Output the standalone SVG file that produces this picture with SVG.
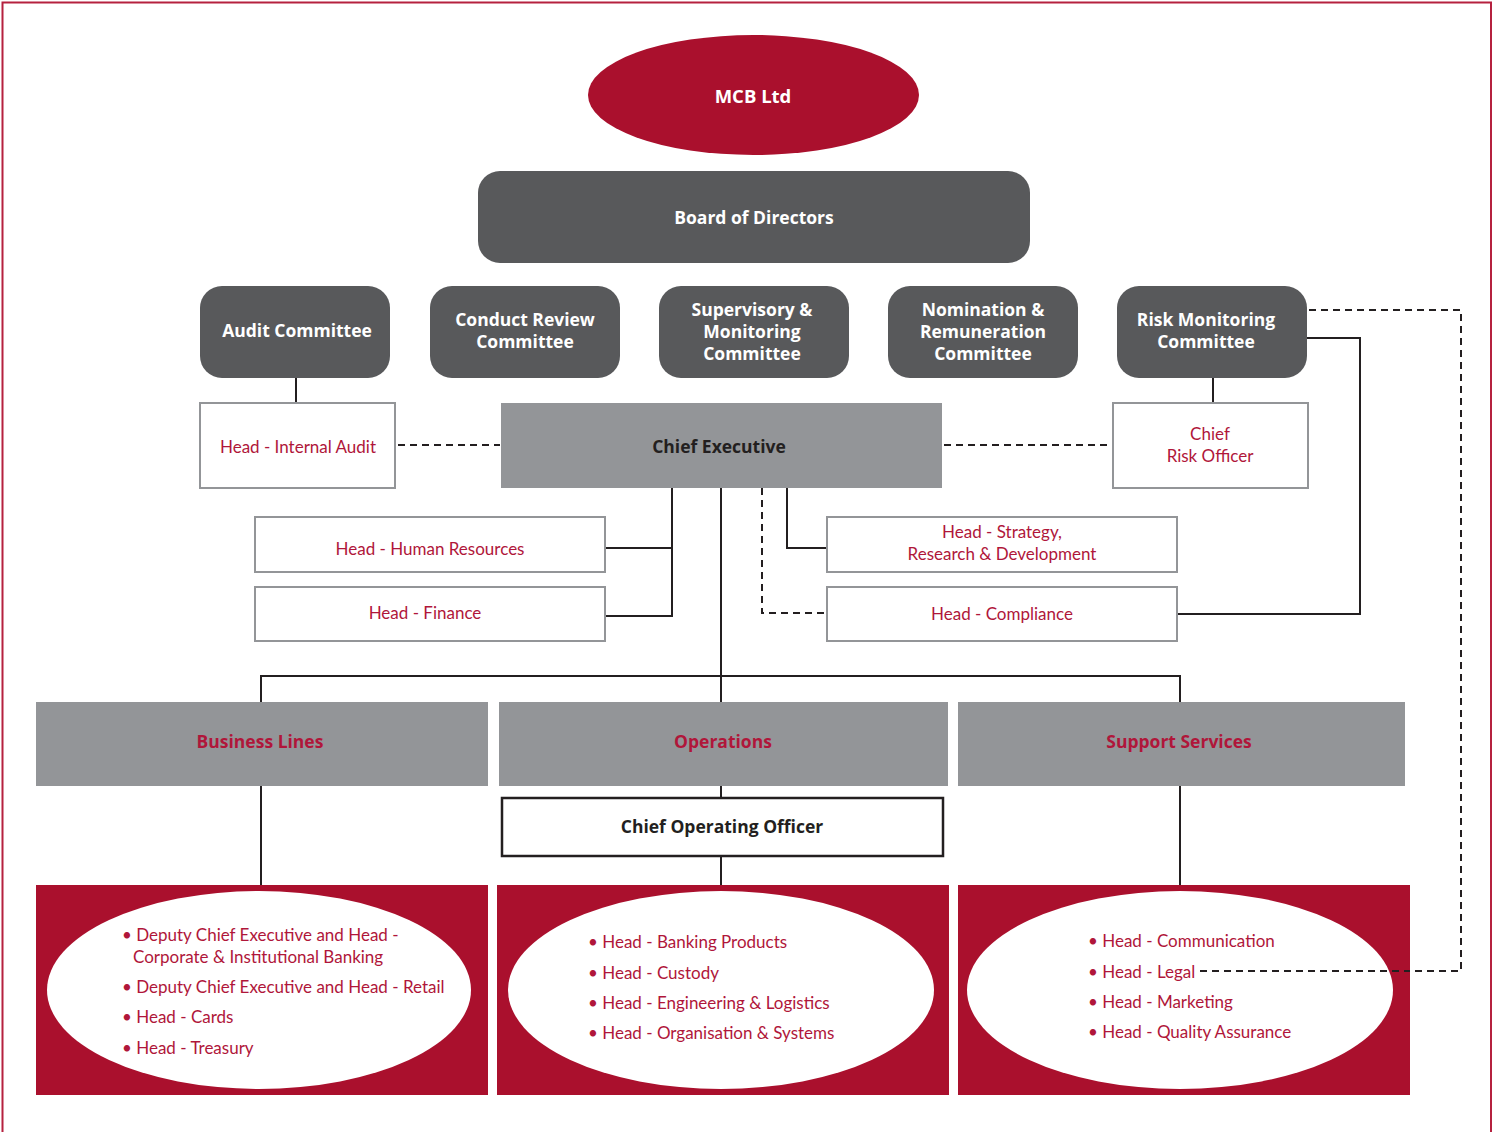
<svg xmlns="http://www.w3.org/2000/svg" width="1493" height="1132" viewBox="0 0 1493 1132">
  <style>
    .t { font-family: Lato, "Liberation Sans", sans-serif; font-size: 17px; text-anchor: middle; dominant-baseline: central; }
    .b { font-family: "Open Sans", "Liberation Sans", sans-serif; font-weight: bold; font-size: 17.5px; }
    .w { fill: #ffffff; }
    .k { fill: #231f20; }
    .r { fill: #b0163a; }
    .li { font-family: Lato, "Liberation Sans", sans-serif; font-size: 17px; fill: #b0163a; dominant-baseline: central; }
    .cm { fill: #58595b; }
    .box { fill: #ffffff; stroke: #939598; stroke-width: 2; }
    .grey { fill: #939598; }
    .red { fill: #aa102d; }
    .solid { fill: none; stroke: #231f20; stroke-width: 2; }
    .dash { fill: none; stroke: #231f20; stroke-width: 2; stroke-dasharray: 7 5; }
  </style>

  <!-- page frame -->
  <path d="M2.5,1132 V2.5 H1491 V1132" fill="none" stroke="#b5213f" stroke-width="2"/>

  <!-- connectors -->
  <g id="connectors">
    <line class="solid" x1="296" y1="378" x2="296" y2="403"/>
    <line class="solid" x1="1213" y1="378" x2="1213" y2="403"/>
    <line class="dash" x1="398" y1="445" x2="500" y2="445"/>
    <line class="dash" x1="944" y1="445" x2="1112" y2="445"/>
    <polyline class="solid" points="1307,338 1360,338 1360,614 1178,614"/>
    <polyline class="dash" points="1309,310 1461,310 1461,971 1198,971"/>
    <polyline class="solid" points="672,488 672,616 605,616"/>
    <line class="solid" x1="605" y1="548" x2="672" y2="548"/>
    <polyline class="solid" points="787,488 787,548 827,548"/>
    <polyline class="dash" points="762,488 762,613 827,613"/>
    <line class="solid" x1="721" y1="488" x2="721" y2="702"/>
    <polyline class="solid" points="261,702 261,676 1180,676 1180,702"/>
    <line class="solid" x1="261" y1="786" x2="261" y2="885"/>
    <line class="solid" x1="721" y1="786" x2="721" y2="798"/>
    <line class="solid" x1="721" y1="856" x2="721" y2="885"/>
    <line class="solid" x1="1180" y1="786" x2="1180" y2="885"/>
  </g>

  <g id="mcb">
    <ellipse cx="753.5" cy="95" rx="165.5" ry="60" fill="#aa102d"/>
    <text class="t b w" x="753" y="95" style="font-size:18.5px">MCB Ltd</text>
  </g>

  <g id="board">
    <rect class="cm" x="478" y="171" width="552" height="92" rx="22"/>
    <text class="t b w" x="754" y="217">Board of Directors</text>
  </g>

  <g id="audit-committee">
    <rect class="cm" x="200" y="286" width="190" height="92" rx="22"/>
    <text class="t b w" x="297" y="330">Audit Committee</text>
  </g>
  <g id="conduct-review">
    <rect class="cm" x="430" y="286" width="190" height="92" rx="22"/>
    <text class="t b w" x="525" y="319">Conduct Review</text>
    <text class="t b w" x="525" y="341">Committee</text>
  </g>
  <g id="supervisory">
    <rect class="cm" x="659" y="286" width="190" height="92" rx="22"/>
    <text class="t b w" x="752" y="309">Supervisory &amp;</text>
    <text class="t b w" x="752" y="331">Monitoring</text>
    <text class="t b w" x="752" y="353">Committee</text>
  </g>
  <g id="nomination">
    <rect class="cm" x="888" y="286" width="190" height="92" rx="22"/>
    <text class="t b w" x="983" y="309">Nomination &amp;</text>
    <text class="t b w" x="983" y="331">Remuneration</text>
    <text class="t b w" x="983" y="353">Committee</text>
  </g>
  <g id="risk-committee">
    <rect class="cm" x="1117" y="286" width="190" height="92" rx="22"/>
    <text class="t b w" x="1206" y="319">Risk Monitoring</text>
    <text class="t b w" x="1206" y="341">Committee</text>
  </g>

  <g id="internal-audit">
    <rect class="box" x="200" y="403" width="195" height="85"/>
    <text class="t r" x="298" y="446">Head - Internal Audit</text>
  </g>
  <g id="chief-executive">
    <rect class="grey" x="501" y="403" width="441" height="85"/>
    <text class="t b k" x="719" y="446">Chief Executive</text>
  </g>
  <g id="cro">
    <rect class="box" x="1113" y="403" width="195" height="85"/>
    <text class="t r" x="1210" y="433">Chief</text>
    <text class="t r" x="1210" y="455">Risk Officer</text>
  </g>

  <g id="hr">
    <rect class="box" x="255" y="517" width="350" height="55"/>
    <text class="t r" x="430" y="548">Head - Human Resources</text>
  </g>
  <g id="finance">
    <rect class="box" x="255" y="587" width="350" height="54"/>
    <text class="t r" x="425" y="612">Head - Finance</text>
  </g>
  <g id="strategy">
    <rect class="box" x="827" y="517" width="350" height="55"/>
    <text class="t r" x="1002" y="531">Head - Strategy,</text>
    <text class="t r" x="1002" y="553">Research &amp; Development</text>
  </g>
  <g id="compliance">
    <rect class="box" x="827" y="587" width="350" height="54"/>
    <text class="t r" x="1002" y="613">Head - Compliance</text>
  </g>

  <g id="business-lines">
    <rect class="grey" x="36" y="702" width="452" height="84"/>
    <text class="t b r" x="260" y="741">Business Lines</text>
  </g>
  <g id="operations">
    <rect class="grey" x="499" y="702" width="449" height="84"/>
    <text class="t b r" x="723" y="741">Operations</text>
  </g>
  <g id="support-services">
    <rect class="grey" x="958" y="702" width="447" height="84"/>
    <text class="t b r" x="1179" y="741">Support Services</text>
  </g>

  <g id="coo">
    <rect x="502" y="798" width="441" height="58" fill="#ffffff" stroke="#231f20" stroke-width="2.5"/>
    <text class="t b k" x="722" y="826">Chief Operating Officer</text>
  </g>

  <g id="business-heads">
    <rect class="red" x="36" y="885" width="452" height="210"/>
    <ellipse cx="259" cy="990" rx="212" ry="99" fill="#ffffff"/>
    <text class="li" x="122" y="934">• Deputy Chief Executive and Head -</text>
    <text class="li" x="133" y="956">Corporate &amp; Institutional Banking</text>
    <text class="li" x="122" y="986">• Deputy Chief Executive and Head - Retail</text>
    <text class="li" x="122" y="1016">• Head - Cards</text>
    <text class="li" x="122" y="1047">• Head - Treasury</text>
  </g>
  <g id="operations-heads">
    <rect class="red" x="497" y="885" width="452" height="210"/>
    <ellipse cx="721" cy="990" rx="213" ry="99" fill="#ffffff"/>
    <text class="li" x="588" y="941">• Head - Banking Products</text>
    <text class="li" x="588" y="972">• Head - Custody</text>
    <text class="li" x="588" y="1002">• Head - Engineering &amp; Logistics</text>
    <text class="li" x="588" y="1032">• Head - Organisation &amp; Systems</text>
  </g>
  <g id="support-heads">
    <rect class="red" x="958" y="885" width="452" height="210"/>
    <ellipse cx="1180" cy="990" rx="213" ry="99" fill="#ffffff"/>
    <text class="li" x="1088" y="940">• Head - Communication</text>
    <text class="li" x="1088" y="971">• Head - Legal</text>
    <text class="li" x="1088" y="1001">• Head - Marketing</text>
    <text class="li" x="1088" y="1031">• Head - Quality Assurance</text>
  </g>

  <!-- dotted link into the Legal item, drawn over the ellipse -->
  <line class="dash" x1="1200" y1="971" x2="1410" y2="971"/>
</svg>
